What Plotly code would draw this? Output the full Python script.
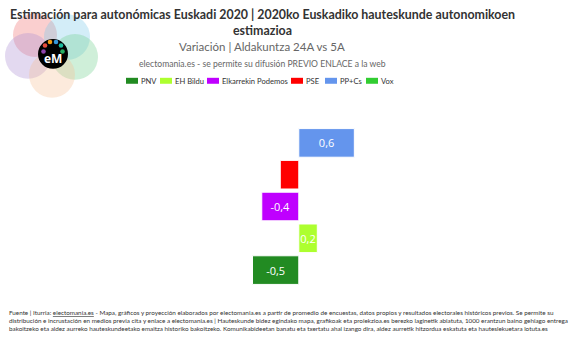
import plotly.graph_objects as go

# ---- data ----
parties = ["PNV", "EH Bildu", "Elkarrekin Podemos", "PSE", "PP+Cs", "Vox"]
variation = [-0.5, 0.2, -0.4, -0.2, 0.6, 0.0]
show_label = [True, True, True, False, True, False]
colors = ["#228B22", "#ADFF2F", "#BF00FF", "#FF0000", "#6495ED", "#32CD32"]

W, H = 580, 338
L, R, T, B = 10, 10, 126.5, 51.5
PW, PH = W - L - R, H - T - B


def px(x):
    return (x - L) / PW


def py(y):
    return (H - B - y) / PH


fig = go.Figure()
# category order: bottom -> top (Vox sits outside the visible range)
cat_order = ["Vox", "PNV", "EH Bildu", "Elkarrekin Podemos", "PSE", "PP+Cs"]
for p, v, s, c in zip(parties, variation, show_label, colors):
    txt = f"{v:.1f}".replace(".", ",") if s else ""
    fig.add_trace(go.Bar(
        x=[v], y=[p], orientation="h", name=p, width=0.9,
        marker=dict(color=c, line=dict(color="white", width=1)),
        text=[txt], textposition="inside", insidetextanchor="middle",
        textangle=0, constraintext="none",
        textfont=dict(color="white", size=11, family="Open Sans"),
        hoverinfo="skip", showlegend=False,
    ))

shapes = []
annotations = []

# ---- logo ----
logo_circles = [
    (35, 34, 22, "rgba(240,110,110,0.33)"),
    (67, 36, 23, "rgba(120,200,235,0.33)"),
    (75, 56, 23, "rgba(110,205,140,0.33)"),
    (28, 55, 23, "rgba(170,140,210,0.33)"),
    (52, 74, 23, "rgba(245,190,150,0.33)"),
]
for cx, cy, r, col in logo_circles:
    shapes.append(dict(type="circle", xref="paper", yref="paper",
                       x0=px(cx - r), x1=px(cx + r), y0=py(cy + r), y1=py(cy - r),
                       fillcolor=col, line=dict(width=0), layer="above"))
shapes.append(dict(type="circle", xref="paper", yref="paper",
                   x0=px(53 - 15), x1=px(53 + 15), y0=py(53 + 15), y1=py(53 - 15),
                   fillcolor="black", line=dict(width=0), layer="above"))
arc_cols = ["#8e44ad", "#e74c3c", "#f39c12", "#3498db", "#1abc9c", "#27ae60"]
arc_pts = [(43.5, 50.5), (45, 44.5), (50, 41), (56, 41), (61, 44.5), (62.5, 50.5)]
for (ax, ay), col in zip(arc_pts, arc_cols):
    shapes.append(dict(type="circle", xref="paper", yref="paper",
                       x0=px(ax - 2.3), x1=px(ax + 2.3), y0=py(ay + 2.3), y1=py(ay - 2.3),
                       fillcolor=col, line=dict(width=0), layer="above"))
annotations.append(dict(text="<b>eM</b>", x=px(53), y=py(58), xref="paper", yref="paper",
                        showarrow=False, font=dict(color="white", size=12, family="Open Sans"),
                        xanchor="center", yanchor="middle"))

# ---- titles ----
annotations.append(dict(
    text="<b>Estimación para autonómicas Euskadi 2020 | 2020ko Euskadiko hauteskunde autonomikoen</b>",
    x=px(262), y=py(13.5), xref="paper", yref="paper", showarrow=False,
    xanchor="center", yanchor="middle",
    font=dict(size=12.4, color="#333333", family="Lato")))
annotations.append(dict(
    text="<b>estimazioa</b>",
    x=px(262), y=py(29.5), xref="paper", yref="paper", showarrow=False,
    xanchor="center", yanchor="middle",
    font=dict(size=12.4, color="#333333", family="Lato")))
annotations.append(dict(
    text="Variación | Aldakuntza 24A vs 5A",
    x=px(262), y=py(45.5), xref="paper", yref="paper", showarrow=False,
    xanchor="center", yanchor="middle",
    font=dict(size=11.5, color="#666666", family="Lato")))
annotations.append(dict(
    text="electomania.es - se permite su difusión PREVIO ENLACE a la web",
    x=px(262), y=py(63), xref="paper", yref="paper", showarrow=False,
    xanchor="center", yanchor="middle",
    font=dict(size=8.6, color="#666666", family="Lato")))

# ---- legend (drawn) ----
legend_x = [126, 160, 207, 291, 325, 366]
for p, c, lx in zip(parties, colors, legend_x):
    shapes.append(dict(type="rect", xref="paper", yref="paper",
                       x0=px(lx), x1=px(lx + 12), y0=py(83), y1=py(77),
                       fillcolor=c, line=dict(width=0)))
    annotations.append(dict(text=p, x=px(lx + 13), y=py(80), xref="paper", yref="paper",
                            showarrow=False, xanchor="left", yanchor="middle",
                            font=dict(size=7.6, color="#333333", family="Lato")))

# ---- footer ----
footer = ("Fuente | Iturria: <u>electomania.es</u> - Mapa, gráficos y proyección elaborados por electomania.es a partir de promedio de encuestas, datos propios y resultados electorales históricos previos. Se permite su<br>"
          "distribución e incrustación en medios previa cita y enlace a electomania.es | Hauteskunde bidez egindako mapa, grafikoak eta proiekzioa.es berezko laginetik abiatuta, 1000 erantzun baino gehiago entrega<br>"
          "bakoitzeko eta aldez aurreko hauteskundeetako emaitza historiko bakoitzeko. Komunikabideetan banatu eta txertatu ahal izango dira, aldez aurretik hitzordua eskatuta eta hauteslekuetara lotuta.es")
annotations.append(dict(text=footer, x=px(7), y=py(308), xref="paper", yref="paper",
                        showarrow=False, xanchor="left", yanchor="top", align="left",
                        font=dict(size=6.3, color="#333333", family="Lato")))

fig.update_layout(
    width=W, height=H,
    margin=dict(l=L, r=R, t=T, b=B),
    paper_bgcolor="white", plot_bgcolor="white",
    barmode="overlay",
    xaxis=dict(range=[-3.12, 2.93], visible=False, fixedrange=True),
    yaxis=dict(type="category", categoryorder="array", categoryarray=cat_order,
               range=[0.5, 5.5], visible=False, fixedrange=True),
    shapes=shapes, annotations=annotations,
    showlegend=False,
)
fig.write_html("out.html")
